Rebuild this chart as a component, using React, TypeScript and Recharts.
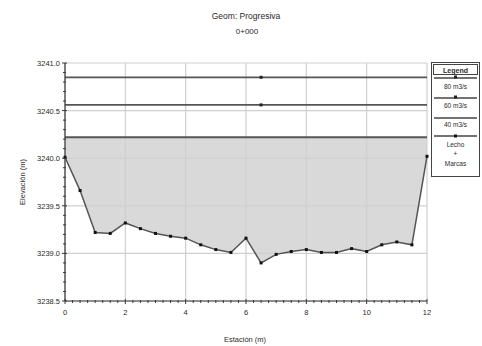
import { Area, ComposedChart, Line, ReferenceLine, XAxis, YAxis } from "recharts";

const stations = [0, 0.5, 1, 1.5, 2, 2.5, 3, 3.5, 4, 4.5, 5, 5.5, 6, 6.5, 7, 7.5, 8, 8.5, 9, 9.5, 10, 10.5, 11, 11.5, 12];
const ground = [
    3240.01, 3239.66, 3239.22, 3239.21, 3239.32, 3239.26, 3239.21, 3239.18, 3239.16, 3239.09, 3239.04, 3239.01,
    3239.16, 3238.9, 3238.99, 3239.02, 3239.04, 3239.01, 3239.01, 3239.05, 3239.02, 3239.09, 3239.12, 3239.09, 3240.02,
];
const flowNames = ["80 m3/s", "60 m3/s", "40 m3/s"];
const wsLevels = [3240.85, 3240.56, 3240.22];
const markerStation = 6.5;

const xMajor = [0, 2, 4, 6, 8, 10, 12];
const yMajor = [3238.5, 3239.0, 3239.5, 3240.0, 3240.5, 3241.0];

const xTicks: number[] = [];
for (let i = 0; i <= 48; i++) xTicks.push(i * 0.25);
const yTicks: number[] = [];
for (let i = 0; i <= 25; i++) yTicks.push(Number((3238.5 + i * 0.1).toFixed(2)));

const data = stations.map((x, i) => ({
    x,
    ground: ground[i],
    w80: wsLevels[0],
    w60: wsLevels[1],
    w40: wsLevels[2],
}));

const font = "Arial, 'Liberation Sans', sans-serif";
const axisColor = "#3a3a3a";
const textColor = "#2a2a2a";

const isMajor = (v: number, list: number[]) => list.some((m) => Math.abs(m - v) < 1e-6);

const YTick = (props: any) => {
    const { x, y, payload } = props;
    const major = isMajor(payload.value, yMajor);
    return (
        <g>
            <line x1={x - (major ? 3 : 2)} x2={x + (major ? 2 : 1)} y1={y} y2={y} stroke={axisColor} strokeWidth={1} />
            {major && (
                <text x={x - 5} y={y} dy={3} textAnchor="end" fontSize={7.5} fontFamily={font} fill={textColor}>
                    {payload.value.toFixed(1)}
                </text>
            )}
        </g>
    );
};

const XTick = (props: any) => {
    const { x, y, payload } = props;
    const major = isMajor(payload.value, xMajor);
    return (
        <g>
            <line x1={x} x2={x} y1={y - (major ? 2 : 1)} y2={y + (major ? 3 : 2)} stroke={axisColor} strokeWidth={1} />
            {major && (
                <text x={x} y={y + 14} textAnchor="middle" fontSize={7.5} fontFamily={font} fill={textColor}>
                    {payload.value}
                </text>
            )}
        </g>
    );
};

const waterDot = (props: any) => {
    const { cx, cy, payload, index } = props;
    if (payload.x !== markerStation) return <g key={index} />;
    return <rect key={index} x={cx - 1.5} y={cy - 1.5} width={3} height={3} fill="#222" />;
};

const groundDot = (props: any) => {
    const { cx, cy, index } = props;
    return <rect key={index} x={cx - 1.5} y={cy - 1.5} width={3} height={3} fill="#111" />;
};

const Legend = () => {
    const rows = [78, 98, 118];
    const labelY = [89, 108, 127];
    return (
        <svg width={52} height={118} style={{ position: "absolute", left: 430, top: 60 }}>
            <g transform="translate(-430,-60)" fontFamily={font} fill={textColor}>
                <rect x={431.5} y={62.5} width={48} height={114} fill="#fff" stroke="#444" />
                <rect x={433.5} y={64.5} width={44} height={10} fill="#fff" stroke="#444" />
                <text x={455.5} y={72.5} textAnchor="middle" fontSize={7} fontWeight="bold">Legend</text>
                {flowNames.map((name, i) => (
                    <g key={name}>
                        <line x1={434} x2={477} y1={rows[i]} y2={rows[i]} stroke="#444" strokeWidth={1.5} />
                        {i < 2 && <rect x={454} y={rows[i] - 2.5} width={3} height={3} fill="#222" />}
                        <text x={455.5} y={labelY[i]} textAnchor="middle" fontSize={6.5}>{name}</text>
                    </g>
                ))}
                <line x1={434} x2={477} y1={136} y2={136} stroke="#444" strokeWidth={1.5} />
                <rect x={454} y={134.5} width={3} height={3} fill="#111" />
                <text x={455.5} y={147} textAnchor="middle" fontSize={6.5}>Lecho</text>
                <text x={455.5} y={156} textAnchor="middle" fontSize={6.5}>+</text>
                <text x={455.5} y={166} textAnchor="middle" fontSize={6.5}>Marcas</text>
            </g>
        </svg>
    );
};

export default function App() {
    return (
        <div style={{ position: "absolute", left: 0, top: 0, width: 482, height: 346, background: "#fff", fontFamily: font }}>
            <div style={{ position: "absolute", left: 0, width: 492, top: 11, textAlign: "center", fontSize: 8.5, color: textColor }}>
                Geom: Progresiva
            </div>
            <div style={{ position: "absolute", left: 0, width: 494, top: 27, textAlign: "center", fontSize: 8, color: textColor }}>
                0+000
            </div>
            <ComposedChart
                width={482}
                height={346}
                data={data}
                margin={{ top: 63, right: 55, bottom: 20, left: 0 }}
            >
                {xMajor.map((v) => (
                    <ReferenceLine key={"vx" + v} x={v} stroke="#cfcfcf" strokeWidth={1.2} />
                ))}
                {yMajor.map((v) => (
                    <ReferenceLine key={"hy" + v} y={v} stroke="#cfcfcf" strokeWidth={1.2} />
                ))}
                <XAxis
                    dataKey="x"
                    type="number"
                    domain={[0, 12]}
                    ticks={xTicks}
                    interval={0}
                    height={25}
                    tickSize={0}
                    tickMargin={0}
                    tick={<XTick />}
                    axisLine={{ stroke: axisColor, strokeWidth: 1.2 }}
                    tickLine={false}
                />
                <YAxis
                    type="number"
                    domain={[3238.5, 3241.0]}
                    ticks={yTicks}
                    interval={0}
                    width={65}
                    tickSize={0}
                    tickMargin={0}
                    tick={<YTick />}
                    axisLine={{ stroke: axisColor, strokeWidth: 1.2 }}
                    tickLine={false}
                    allowDataOverflow
                />
                <Area
                    type="linear"
                    dataKey={(d: any) => [d.ground, d.w40]}
                    fill="#d9d9d9"
                    fillOpacity={1}
                    stroke="none"
                    isAnimationActive={false}
                />
                <Line dataKey="w80" stroke="#555" strokeWidth={1.8} dot={waterDot} activeDot={false} isAnimationActive={false} />
                <Line dataKey="w60" stroke="#555" strokeWidth={1.8} dot={waterDot} activeDot={false} isAnimationActive={false} />
                <Line dataKey="w40" stroke="#555" strokeWidth={1.8} dot={false} activeDot={false} isAnimationActive={false} />
                <Line
                    dataKey="ground"
                    stroke="#555"
                    strokeWidth={1.5}
                    dot={groundDot}
                    activeDot={false}
                    isAnimationActive={false}
                />
            </ComposedChart>
            <div
                style={{
                    position: "absolute",
                    left: 22,
                    top: 182,
                    transform: "translate(-50%, -50%) rotate(-90deg)",
                    fontSize: 7.5,
                    color: textColor,
                    whiteSpace: "nowrap",
                }}
            >
                Elevación (m)
            </div>
            <div style={{ position: "absolute", left: 0, width: 490, top: 335, textAlign: "center", fontSize: 7.5, color: textColor }}>
                Estación (m)
            </div>
            <Legend />
        </div>
    );
}
